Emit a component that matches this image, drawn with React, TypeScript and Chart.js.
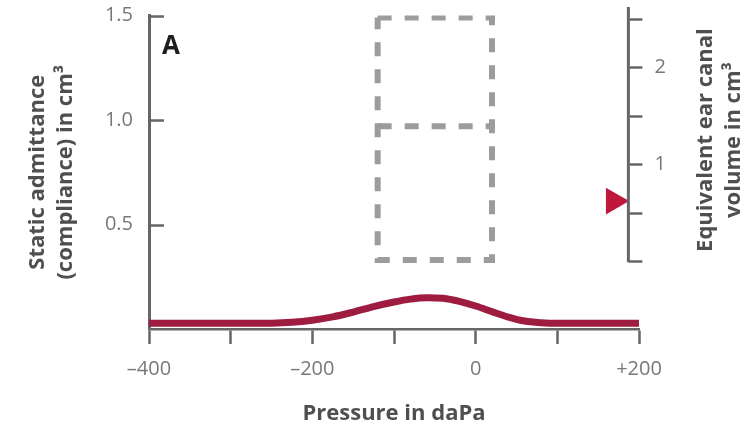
import React, { useEffect, useRef } from 'react';
import { Chart, registerables } from 'chart.js';

Chart.register(...registerables);

// Tympanogram curve (pressure in daPa, static admittance in cm³)
const pressure = [-400, -300, -250, -225, -200, -175, -150, -125, -100, -80, -60, -40, -20, 0, 20, 40, 60, 80, 100, 200];
const admittance = [0.027, 0.027, 0.028, 0.032, 0.042, 0.058, 0.081, 0.107, 0.129, 0.143, 0.15, 0.147, 0.132, 0.11, 0.083, 0.057, 0.038, 0.03, 0.027, 0.027];

// Normal region (dashed boxes)
const normalPressure = [-120, 20];
const normalAdmittance = [0.33, 0.97, 1.49];

// Equivalent ear canal volume marker (right axis, cm³)
const earCanalVolume = [0.62];
const markerPressure = [169];

// Axis ticks
const xTickValues = [-400, -300, -200, -100, 0, 100, 200];
const xTickLabels = ['\u2013400', '', '\u2013200', '', '0', '', '+200'];
const yTickValues = [0, 0.5, 1, 1.5];
const yTickLabels = ['', '0.5', '1.0', '1.5'];
const rightTickValues = [0, 0.5, 1, 1.5, 2, 2.5];
const rightTickLabels = ['', '', '1', '', '2', ''];
const rightAxisAt = 187; // pressure where the right axis stands

const FONT = "'Open Sans', 'Noto Sans', sans-serif";
const AXIS = '#666666';
const LABEL = '#787878';
const TITLE = '#4f4f4f';

const overlay = {
  id: 'overlay',
  afterDraw(chart: any) {
    const ctx = chart.ctx;
    const xs = chart.scales.x;
    const ys = chart.scales.y;
    const y2 = chart.scales.y2;
    ctx.save();
    ctx.strokeStyle = AXIS;
    ctx.lineCap = 'butt';
    // inward ticks on left axis
    ctx.lineWidth = 2.5;
    const lx = xs.left;
    for (const v of yTickValues) {
      if (v === 0) continue;
      const py = Math.round(ys.getPixelForValue(v)) + 0.5;
      ctx.beginPath();
      ctx.moveTo(lx, py);
      ctx.lineTo(lx + 15, py);
      ctx.stroke();
    }
    // right axis
    const ax = xs.getPixelForValue(rightAxisAt);
    const top = y2.getPixelForValue(rightTickValues[rightTickValues.length - 1]);
    const bot = y2.getPixelForValue(rightTickValues[0]);
    ctx.lineWidth = 3;
    ctx.beginPath();
    ctx.moveTo(ax, top - 12);
    ctx.lineTo(ax, bot + 1);
    ctx.stroke();
    ctx.lineWidth = 2.5;
    ctx.font = `20px ${FONT}`;
    ctx.fillStyle = LABEL;
    ctx.textAlign = 'left';
    ctx.textBaseline = 'middle';
    rightTickValues.forEach((v, i) => {
      const py = Math.round(y2.getPixelForValue(v)) + 0.5;
      ctx.beginPath();
      ctx.moveTo(ax, py);
      ctx.lineTo(ax + 14, py);
      ctx.stroke();
      if (rightTickLabels[i]) ctx.fillText(rightTickLabels[i], ax + 26, py);
    });
    // right axis title (reads bottom to top)
    ctx.font = `bold 22px ${FONT}`;
    ctx.fillStyle = TITLE;
    ctx.textAlign = 'center';
    ctx.textBaseline = 'middle';
    const cy = (top + bot) / 2;
    ctx.save();
    ctx.translate(706, cy);
    ctx.rotate(-Math.PI / 2);
    ctx.fillText('Equivalent ear canal', 0, 0);
    ctx.fillText('volume in cm\u00b3', 0, 28);
    ctx.restore();
    // panel letter
    ctx.font = `bold 26px ${FONT}`;
    ctx.fillStyle = '#1e1e1e';
    ctx.textAlign = 'left';
    ctx.fillText('A', 162, 47);
    ctx.restore();
  },
};

export default function App() {
  const ref = useRef<HTMLCanvasElement | null>(null);
  useEffect(() => {
    if (!ref.current) return;
    const boxPts = [
      { x: normalPressure[0], y: normalAdmittance[2] },
      { x: normalPressure[1], y: normalAdmittance[2] },
      { x: normalPressure[1], y: normalAdmittance[0] },
      { x: normalPressure[0], y: normalAdmittance[0] },
      { x: normalPressure[0], y: normalAdmittance[2] },
    ];
    const midPts = [
      { x: normalPressure[0], y: normalAdmittance[1] },
      { x: normalPressure[1], y: normalAdmittance[1] },
    ];
    const dashed = {
      type: 'line' as const,
      borderColor: '#9c9c9c',
      borderWidth: 6,
      borderDash: [14, 13],
      borderCapStyle: 'butt' as const,
      pointRadius: 0,
      tension: 0,
      fill: false,
      yAxisID: 'y',
    };
    const chart = new Chart(ref.current, {
      type: 'line',
      data: {
        datasets: [
          {
            ...dashed,
            data: boxPts,
          },
          {
            ...dashed,
            data: midPts,
          },
          {
            type: 'line',
            data: pressure.map((p, i) => ({ x: p, y: admittance[i] })),
            borderColor: '#9d1c40',
            borderWidth: 7,
            borderCapStyle: 'butt',
            pointRadius: 0,
            cubicInterpolationMode: 'monotone',
            fill: false,
            yAxisID: 'y',
          } as any,
          {
            type: 'scatter',
            data: earCanalVolume.map((v, i) => ({ x: markerPressure[i], y: v })),
            yAxisID: 'y2',
            pointStyle: 'triangle',
            rotation: 90,
            pointRadius: 15.5,
            backgroundColor: '#c0183d',
            borderColor: '#c0183d',
            borderWidth: 0,
            showLine: false,
          } as any,
        ],
      },
      options: {
        animation: false,
        responsive: false,
        devicePixelRatio: 1,
        layout: { padding: { left: 0, right: 110, top: 15, bottom: 0 } },
        plugins: { legend: { display: false }, tooltip: { enabled: false } },
        scales: {
          x: {
            type: 'linear',
            min: -400,
            max: 200,
            afterBuildTicks: (s: any) => {
              s.ticks = xTickValues.map((v) => ({ value: v }));
            },
            ticks: {
              autoSkip: false,
              maxRotation: 0,
              padding: 13,
              color: LABEL,
              font: { family: FONT, size: 20 },
              callback: (_v: any, i: number) => xTickLabels[i],
            },
            grid: {
              drawOnChartArea: false,
              drawTicks: true,
              tickLength: 15,
              tickColor: AXIS,
              tickWidth: 2.5,
              color: AXIS,
            },
            border: { display: true, color: AXIS, width: 2.5 },
            title: {
              display: true,
              text: 'Pressure in daPa',
              color: TITLE,
              font: { family: FONT, size: 22, weight: 'bold', lineHeight: 1.27 },
              padding: { top: 0, bottom: 3 },
            },
            afterFit: (s: any) => {
              s.height = 102;
              s.paddingLeft = 0;
              s.paddingRight = 0;
            },
          },
          y: {
            type: 'linear',
            position: 'left',
            min: 0,
            max: 1.5,
            afterBuildTicks: (s: any) => {
              s.ticks = yTickValues.map((v) => ({ value: v }));
            },
            ticks: {
              padding: 16,
              color: LABEL,
              font: { family: FONT, size: 20 },
              callback: (_v: any, i: number) => yTickLabels[i],
            },
            grid: { drawOnChartArea: false, drawTicks: false },
            border: { display: true, color: AXIS, width: 3 },
            title: {
              display: true,
              text: ['Static admittance', '(compliance) in cm\u00b3'],
              color: TITLE,
              font: { family: FONT, size: 22, weight: 'bold', lineHeight: 1.27 },
              padding: { top: 24, bottom: 0 },
            },
            afterFit: (s: any) => {
              s.width = 149;
              s.paddingTop = 0;
              s.paddingBottom = 0;
            },
          },
          y2: {
            type: 'linear',
            position: 'right',
            display: false,
            min: -0.701,
            max: 2.536,
          },
        },
      } as any,
      plugins: [overlay],
    });
    return () => chart.destroy();
  }, []);
  return (
    <div style={{ position: 'fixed', left: 0, top: 0, width: 749, height: 431, background: '#fff' }}>
      <canvas ref={ref} width={749} height={431} style={{ display: 'block', width: 749, height: 431 }} />
    </div>
  );
}
